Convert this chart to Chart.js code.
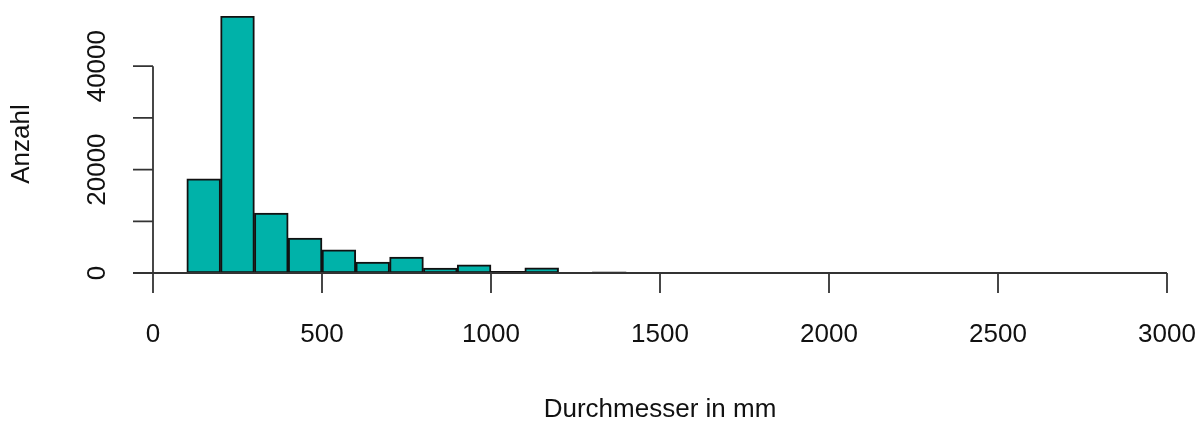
<!DOCTYPE html>
<html lang="de">
<head>
    <meta charset="UTF-8">
    <title>Durchmesser Histogramm</title>
    <script src="https://cdn.jsdelivr.net/npm/chart.js@4.4.0/dist/chart.umd.min.js"></script>
    <style>
        html, body { margin: 0; padding: 0; background: #fff; }
        #histChart { display: block; }
    </style>
</head>
<body>
    <canvas id="histChart" width="1202" height="426"></canvas>
    <script>
        // bin edges (mm), width 100, from 0 to 3000
        const binStarts = [0, 100, 200, 300, 400, 500, 600, 700, 800, 900,
                           1000, 1100, 1200, 1300, 1400, 1500, 1600, 1700, 1800, 1900,
                           2000, 2100, 2200, 2300, 2400, 2500, 2600, 2700, 2800, 2900];
        const binWidth = 100;
        // counts
        const counts = [0, 18200, 49700, 11600, 6760, 4500, 2120, 3090, 970, 1600,
                        300, 1000, 60, 250, 80, 100, 30, 50, 20, 40,
                        10, 5, 5, 0, 0, 0, 0, 0, 0, 5];

        const xTickValues = [0, 500, 1000, 1500, 2000, 2500, 3000];
        const yTickValues = [0, 10000, 20000, 30000, 40000];
        const yLabelValues = [0, 20000, 40000];

        const xTitle = 'Durchmesser in mm';
        const yTitle = 'Anzahl';

        const FONT = '26px "Liberation Sans", Arial, sans-serif';
        const AXIS_COLOR = '#333333';

        const rAxes = {
            id: 'rAxes',
            afterDatasetsDraw(chart) {
                const ctx = chart.ctx;
                const x = chart.scales.x;
                const y = chart.scales.y;
                const y0 = y.getPixelForValue(0);
                const xl = x.getPixelForValue(0);
                ctx.save();
                ctx.strokeStyle = AXIS_COLOR;
                ctx.lineWidth = 1.8;
                ctx.fillStyle = '#111';
                ctx.font = FONT;

                // x axis
                const xa = x.getPixelForValue(xTickValues[0]);
                const xb = x.getPixelForValue(xTickValues[xTickValues.length - 1]);
                ctx.beginPath();
                ctx.moveTo(xa, y0);
                ctx.lineTo(xb, y0);
                xTickValues.forEach(v => {
                    const px = x.getPixelForValue(v);
                    ctx.moveTo(px, y0);
                    ctx.lineTo(px, y0 + 20);
                });
                ctx.stroke();
                ctx.textAlign = 'center';
                ctx.textBaseline = 'middle';
                xTickValues.forEach(v => {
                    ctx.fillText(String(v), x.getPixelForValue(v), y0 + 62);
                });

                // y axis
                const ya = y.getPixelForValue(yTickValues[0]);
                const yb = y.getPixelForValue(yTickValues[yTickValues.length - 1]);
                ctx.beginPath();
                ctx.moveTo(xl, ya);
                ctx.lineTo(xl, yb);
                yTickValues.forEach(v => {
                    const py = y.getPixelForValue(v);
                    ctx.moveTo(xl, py);
                    ctx.lineTo(xl - 20, py);
                });
                ctx.stroke();
                yLabelValues.forEach(v => {
                    ctx.save();
                    ctx.translate(xl - 55, y.getPixelForValue(v));
                    ctx.rotate(-Math.PI / 2);
                    ctx.fillText(String(v), 0, 0);
                    ctx.restore();
                });

                // titles
                ctx.fillText(xTitle, (xa + xb) / 2, y0 + 137);
                ctx.save();
                ctx.translate(22, 144);
                ctx.rotate(-Math.PI / 2);
                ctx.fillText(yTitle, 0, 0);
                ctx.restore();

                ctx.restore();
            }
        };

        new Chart(document.getElementById('histChart'), {
            type: 'bar',
            data: {
                datasets: [{
                    data: binStarts.map((b, i) => ({ x: b + binWidth / 2, y: counts[i] })),
                    backgroundColor: '#00B2A9',
                    borderColor: '#111111',
                    borderWidth: 2,
                    borderSkipped: false,
                    barPercentage: 1,
                    categoryPercentage: 1
                }]
            },
            options: {
                responsive: false,
                animation: false,
                events: [],
                layout: { padding: { left: 153, right: 35, top: 16, bottom: 153 } },
                plugins: { legend: { display: false }, tooltip: { enabled: false } },
                scales: {
                    x: { type: 'linear', display: false, offset: false, min: 0, max: 3000 },
                    y: { display: false, min: 0, max: Math.max(...counts) }
                }
            },
            plugins: [rAxes]
        });
    </script>
</body>
</html>
